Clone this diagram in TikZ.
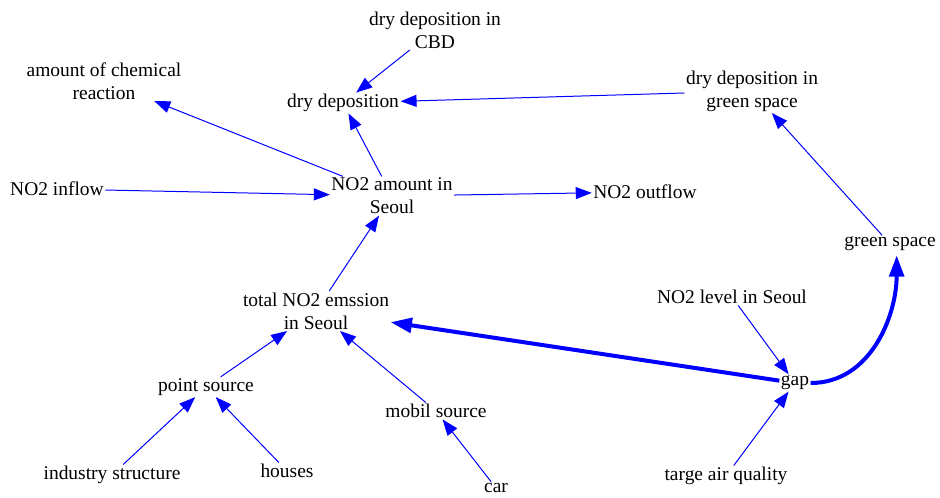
\documentclass[tikz,border=0pt]{standalone}
\usepackage{fontspec}
\setmainfont{Liberation Serif}
\usetikzlibrary{arrows.meta}

\begin{document}
\begin{tikzpicture}[x=0.75pt, y=-0.75pt,
    var/.style={inner sep=1pt, align=center, font=\fontsize{14.6pt}{17.3pt}\selectfont},
    link/.style={blue, line width=0.75pt, -{Triangle[length=12pt, width=9pt]}},
    strong/.style={blue, line width=3pt, -{Triangle[length=16pt, width=11pt]}}]
    \useasboundingbox (0,0) rectangle (940,497);
    % variables
    \node[var] (cbd)    at (435, 30) {dry deposition in\\CBD};
    \node[var] (chem)   at (104, 81) {amount of chemical\\reaction};
    \node[var] (dry)    at (343,103) {dry deposition};
    \node[var] (drygr)  at (752, 91) {dry deposition in\\green space};
    \node[var] (inflow) at ( 57,189) {NO2 inflow};
    \node[var] (amount) at (392,196) {NO2 amount in\\Seoul};
    \node[var] (outflow)at (645,192) {NO2 outflow};
    \node[var] (green)  at (890,244) {green space};
    \node[var] (total)  at (316,311) {total NO2 emssion\\in Seoul};
    \node[var] (level)  at (732,297) {NO2 level in Seoul};
    \node[var] (point)  at (206,387) {point source};
    \node[var] (mobil)  at (436,411) {mobil source};
    \node[var] (gap)    at (795,383) {gap};
    \node[var] (indus)  at (112,475) {industry structure};
    \node[var] (houses) at (287,471) {houses};
    \node[var] (car)    at (496,488) {car};
    \node[var] (target) at (726,476) {targe air quality};
    % links
    \draw[link] (cbd) -- (dry);
    \draw[link] (drygr) -- (dry);
    \draw[link] (amount) -- (chem);
    \draw[link] (amount) -- (dry);
    \draw[link] (inflow) -- (amount);
    \draw[link] (amount) -- (outflow);
    \draw[link] (total) -- (amount);
    \draw[link] (green) -- (drygr);
    \draw[link] (point) -- (total);
    \draw[link] (indus) -- (point);
    \draw[link] (houses) -- (point);
    \draw[link] (mobil) -- (total);
    \draw[link] (car) -- (mobil);
    \draw[link] (level) -- (gap);
    \draw[link] (target) -- (gap);
    % feedback from gap
    \draw[strong] (gap) -- (total);
    \draw[strong] (gap.east) to[out=0, in=-90] ([xshift=5pt, yshift=-2pt]green.south);
\end{tikzpicture}
\end{document}
